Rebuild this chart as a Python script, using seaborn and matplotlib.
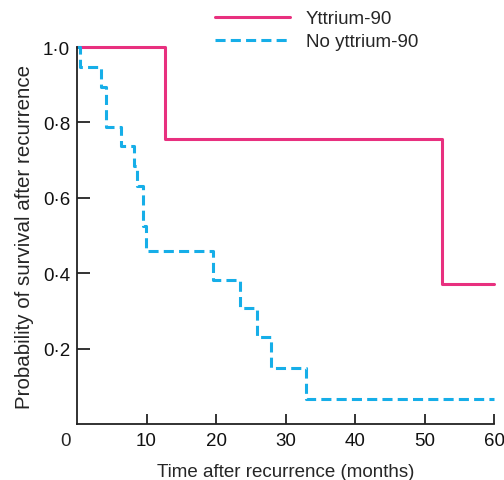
import matplotlib
matplotlib.use("Agg")
import matplotlib.pyplot as plt
import seaborn as sns
import pandas as pd

# Data (Kaplan-Meier step curves)
y90_time = [0, 12.7, 52.5, 60]
y90_surv = [1.0, 0.757, 0.372, 0.372]

noy90_time = [0, 0.4, 3.4, 4.1, 6.3, 8.2, 8.6, 9.5, 9.9, 19.5, 23.5, 25.9, 27.9, 32.9, 60]
noy90_surv = [1.0, 0.947, 0.895, 0.789, 0.737, 0.684, 0.632, 0.526, 0.460,
              0.381, 0.309, 0.232, 0.148, 0.067, 0.067]

groups = ["Yttrium-90", "No yttrium-90"]
x_ticks = [10, 20, 30, 40, 50, 60]
y_ticks = [0.2, 0.4, 0.6, 0.8, 1.0]
y_tick_labels = ["0·2", "0·4", "0·6", "0·8", "1·0"]

df = pd.concat([
    pd.DataFrame({"time": y90_time, "surv": y90_surv, "group": groups[0]}),
    pd.DataFrame({"time": noy90_time, "surv": noy90_surv, "group": groups[1]}),
], ignore_index=True)

sns.set_style("ticks")
plt.rcParams["font.family"] = ["Liberation Sans", "DejaVu Sans"]

fig = plt.figure(figsize=(5.04, 4.81), dpi=100)
ax = fig.add_axes([0.1528, 0.1164, 0.8274, 0.7838])

palette = {groups[0]: "#E8307F", groups[1]: "#16AEE8"}
dashes = {groups[0]: "", groups[1]: (3.3, 1.7)}

sns.lineplot(data=df, x="time", y="surv", hue="group", style="group",
             palette=palette, dashes=dashes, drawstyle="steps-post",
             estimator=None, sort=False, linewidth=2.2, ax=ax,
             hue_order=groups, style_order=groups)

for ln in ax.get_lines():
    ln.set_clip_on(False)

fs = 13.5
ax.set_xlim(0, 60)
ax.set_ylim(0, 1.0)
ax.set_xticks(x_ticks)
ax.set_yticks(y_ticks)
ax.set_yticklabels(y_tick_labels)
ax.tick_params(direction="in", length=7, width=1.2, labelsize=fs, pad=6, colors="#111111")
ax.tick_params(axis="y", length=9, pad=5)
for s in ["top", "right"]:
    ax.spines[s].set_visible(False)
for s in ["left", "bottom"]:
    ax.spines[s].set_linewidth(1.3)
    ax.spines[s].set_color("#222222")

ax.text(-1.6, -0.044, "0", fontsize=fs, ha="center", va="center", clip_on=False)

ax.set_xlabel("Time after recurrence (months)", fontsize=fs, labelpad=10)
ax.set_ylabel("Probability of survival after recurrence", fontsize=14.8, labelpad=6)

handles, labels = ax.get_legend_handles_labels()
ax.legend(handles=handles, labels=labels, loc="upper left",
          bbox_to_anchor=(215 / 504, 1 - 11 / 481), bbox_transform=fig.transFigure,
          frameon=False, fontsize=fs, handlelength=4.0, handletextpad=0.85,
          labelspacing=0.33, borderpad=0, borderaxespad=0)

fig.savefig("out.png", dpi=100)
